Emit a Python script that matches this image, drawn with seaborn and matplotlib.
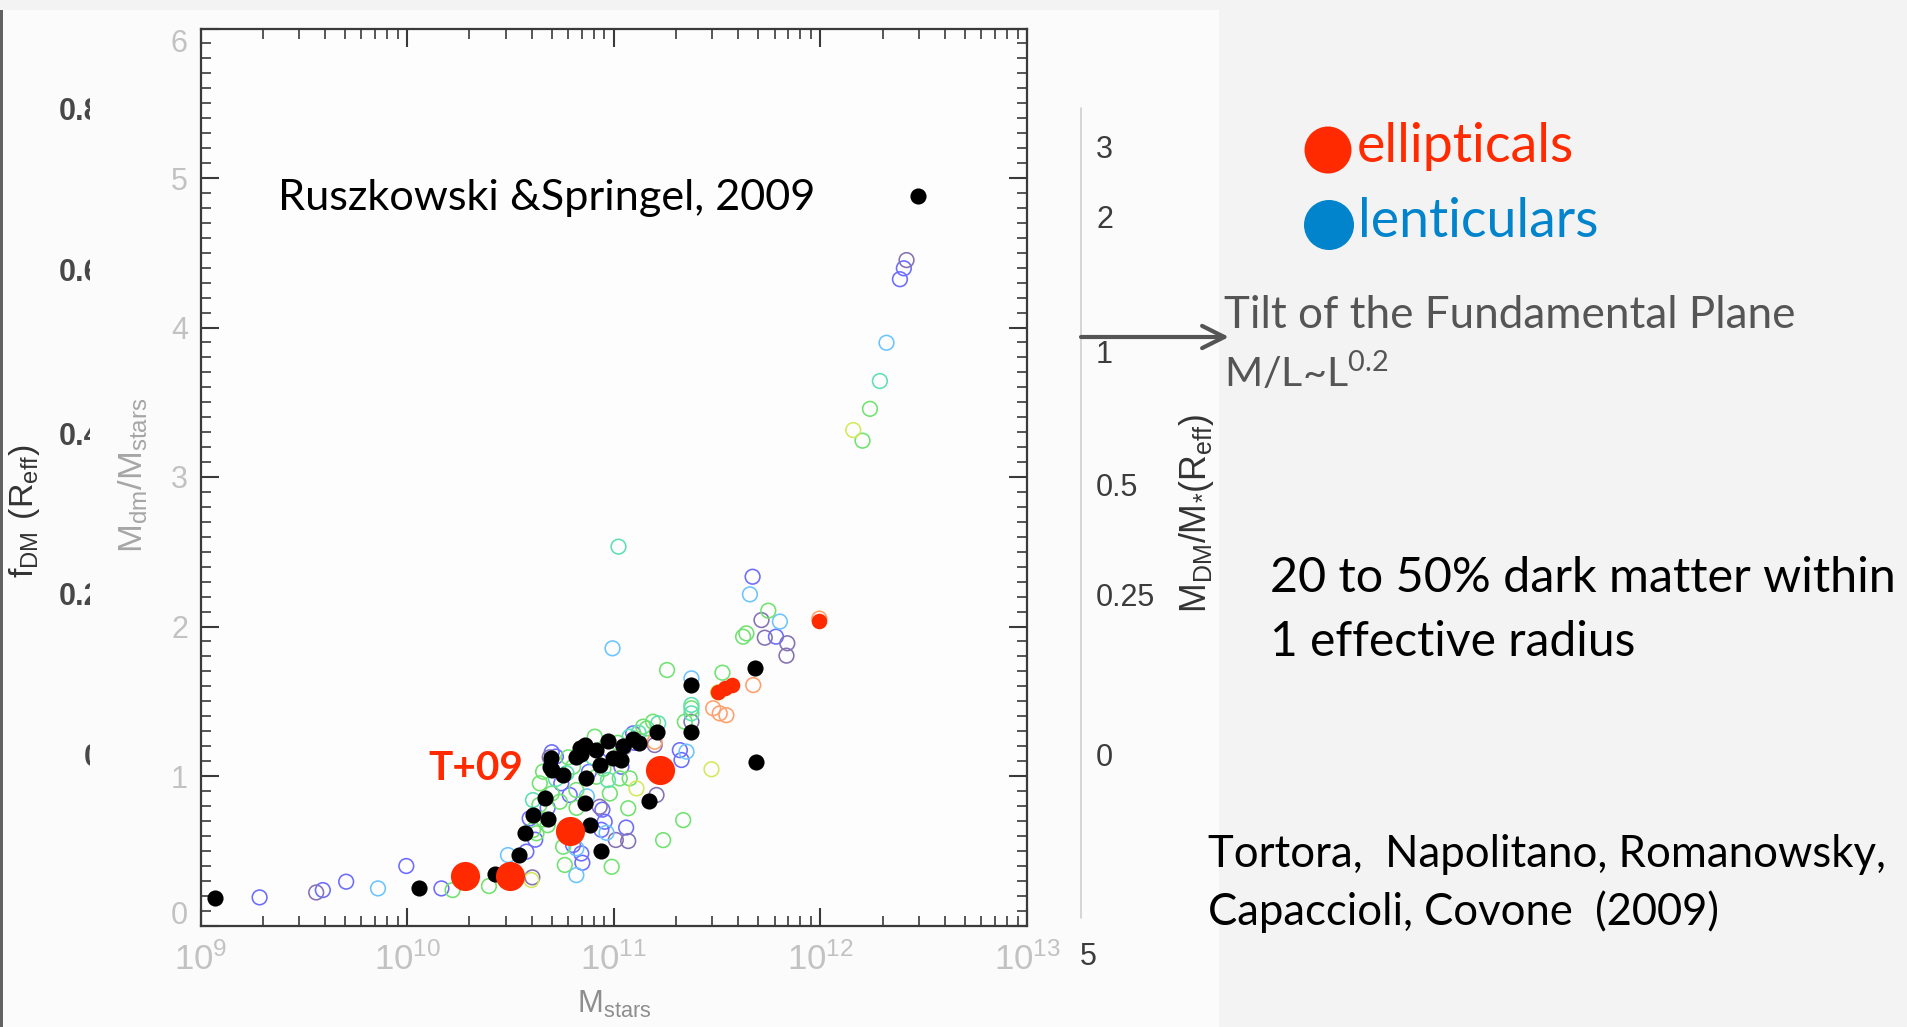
import numpy as np
import pandas as pd
import matplotlib
matplotlib.use("Agg")
import matplotlib.pyplot as plt
import seaborn as sns
from matplotlib.patches import Rectangle, Circle
from matplotlib.ticker import FixedLocator, MultipleLocator, LogLocator, NullFormatter
from matplotlib.transforms import ScaledTranslation

# ------------------------------------------------------------------ data
# hollow (coloured) simulated galaxies: log10 M_stars, M_dm/M_stars, colour group
open_logm = [9.286, 9.560, 9.592, 9.705, 9.859, 9.996, 10.166, 10.220, 10.396, 10.606,
             10.601, 10.488, 10.577, 10.626, 10.593, 10.609, 10.609, 10.642, 10.658, 10.690,
             10.700, 10.720, 10.739, 10.746, 10.755, 10.763, 10.771, 10.787, 10.803, 10.803,
             10.819, 10.819, 10.819, 10.843, 10.848, 10.908, 10.916, 10.932, 10.945, 10.940,
             10.965, 10.956, 10.972, 10.981, 10.990, 11.010, 11.029, 11.037, 11.060, 11.070,
             11.070, 11.077, 11.077, 11.094, 11.110, 11.142, 11.190, 11.215, 11.198, 11.198,
             11.207, 11.239, 11.258, 11.320, 11.328, 11.352, 11.336, 11.344, 11.376, 11.376,
             11.376, 11.376, 11.376, 11.473, 11.481, 11.513, 11.545, 11.526, 11.505, 11.675,
             11.626, 11.642, 11.672, 11.659, 11.748, 11.715, 11.804, 11.731, 11.785, 11.840,
             11.836, 11.995, 11.023, 10.994, 12.159, 12.204, 12.240, 12.288, 12.320, 12.385,
             12.404, 12.417,
             10.680, 10.700, 10.720, 10.660, 10.780, 10.850, 10.880, 10.900, 10.980, 11.020,
             11.050, 11.120, 11.160, 11.100, 10.950, 10.820, 10.870, 10.640, 10.620, 10.680]
open_ratio = [0.188, 0.221, 0.237, 0.293, 0.248, 0.398, 0.248, 0.237, 0.264, 0.322,
              0.304, 0.471, 0.494, 0.617, 0.716, 0.638, 0.839, 0.951, 1.029, 1.125,
              1.159, 1.130, 0.828, 0.951, 0.527, 0.405, 1.018, 0.873, 1.062, 0.538,
              0.906, 0.516, 0.337, 0.482, 0.420, 1.263, 0.995, 0.794, 0.775, 0.640,
              0.620, 0.694, 0.973, 0.883, 0.393, 0.572, 0.984, 1.062, 0.655, 0.565,
              0.784, 0.984, 1.263, 1.285, 0.917, 1.330, 1.363, 1.352, 1.229, 1.207,
              0.873, 0.571, 1.709, 1.173, 1.107, 1.163, 0.705, 1.363, 1.363, 1.419,
              1.453, 1.475, 1.653, 1.045, 1.453, 1.419, 1.407, 1.691, 1.560, 1.608,
              1.932, 1.954, 2.333, 2.215, 2.106, 2.043, 2.033, 1.925, 1.932, 1.888,
              1.805, 2.053, 2.534, 1.854, 3.314, 3.243, 3.456, 3.642, 3.898, 4.323,
              4.396, 4.451,
              0.787, 0.883, 0.980, 0.709, 1.125, 1.173, 1.028, 1.125, 1.173, 1.222,
              1.193, 1.289, 1.318, 1.222, 1.048, 0.787, 0.864, 0.806, 0.574, 0.671]
open_group = ["blue", "purple", "blue", "blue", "lightblue", "blue", "blue", "green", "green", "purple",
              "yellow", "lightblue", "blue", "green", "blue", "green", "aqua", "green", "green", "purple",
              "blue", "blue", "green", "blue", "green", "green", "aqua", "blue", "green", "blue",
              "green", "lightblue", "lightblue", "blue", "blue", "green", "green", "purple", "blue", "blue",
              "lightblue", "blue", "aqua", "green", "green", "purple", "green", "blue", "blue", "purple",
              "green", "green", "aqua", "blue", "yellow", "green", "green", "aqua", "orange", "purple",
              "purple", "green", "green", "blue", "blue", "lightblue", "green", "green", "purple", "aqua",
              "green", "aqua", "lightblue", "yellow", "orange", "orange", "orange", "green", "yellow", "orange",
              "green", "green", "blue", "lightblue", "green", "purple", "lightblue", "purple", "blue", "purple",
              "purple", "orange", "aqua", "lightblue", "yellow", "green", "green", "aqua", "lightblue", "blue",
              "blue", "purple",
              "blue", "green", "aqua", "green", "green", "purple", "blue", "aqua", "blue", "green",
              "purple", "aqua", "green", "blue", "green", "green", "lightblue", "green", "blue", "green"]

# black filled points
black_logm = [9.068, 10.057, 10.424, 10.542, 10.569, 10.607, 10.684, 10.666, 10.690, 10.698,
              10.700, 10.755, 10.819, 10.835, 10.843, 10.860, 10.868, 10.860, 10.884, 10.940,
              10.932, 10.916, 10.972, 10.995, 11.037, 11.045, 11.094, 11.122, 11.207, 11.171,
              11.376, 11.376, 11.686, 11.690, 12.472]
black_ratio = [0.182, 0.248, 0.344, 0.472, 0.622, 0.739, 0.713, 0.854, 1.062, 1.118,
               1.040, 1.006, 1.129, 1.185, 1.144, 1.207, 0.984, 0.820, 0.669, 0.497,
               1.074, 1.173, 1.231, 1.118, 1.107, 1.202, 1.246, 1.219, 1.296, 0.832,
               1.608, 1.296, 1.722, 1.091, 4.878]

# small red filled points
red_logm = [11.505, 11.537, 11.570, 11.993]
red_ratio = [1.564, 1.586, 1.608, 2.034]

# T+09 (big red points)
t09_logm = [10.278, 10.499, 10.786, 11.222]
t09_ratio = [0.330, 0.330, 0.633, 1.037]

x_tick_values = [1e9, 1e10, 1e11, 1e12, 1e13]
y_tick_values = [0, 1, 2, 3, 4, 5, 6]
right_tick_labels = ["3", "2", "1", "0.5", "0.25", "0"]
left_cut_labels = ["0.8", "0.6", "0.4", "0.2", "0"]

group_colors = {"blue": "#6c6cff", "purple": "#8572b2", "lightblue": "#6cc4ff",
                "green": "#70e270", "aqua": "#5ee0b2", "yellow": "#d6e85c",
                "orange": "#ffa06c"}

# ------------------------------------------------------------------ style
sns.set_style("white")
plt.rcParams["font.family"] = ["Liberation Sans", "DejaVu Sans"]
plt.rcParams["axes.unicode_minus"] = False

W, H = 1907, 1027
fig = plt.figure(figsize=(W / 100, H / 100), dpi=100)
R = fig.canvas.get_renderer()

# background axes (pixel coordinates)
bg = fig.add_axes([0, 0, 1, 1], zorder=0)
bg.set_xlim(0, W); bg.set_ylim(H, 0); bg.axis("off")
bg.add_patch(Rectangle((0, 0), W, H, color="#f3f3f3", lw=0))
bg.add_patch(Rectangle((0, 10), 1219, H - 10, color="#fbfbfb", lw=0))
bg.add_patch(Rectangle((0, 10), 2.5, H - 10, color="#626262", lw=0))

# main axes
ax_left, ax_right, ax_top, ax_bot = 200.5, 1027, 28.5, 925.5
ax = fig.add_axes([ax_left / W, 1 - ax_bot / H, (ax_right - ax_left) / W, (ax_bot - ax_top) / H],
                  zorder=1)
ax.set_facecolor("#fdfdfd")

df_open = pd.DataFrame({"mass": 10 ** np.array(open_logm), "ratio": open_ratio, "group": open_group})
for g, sub in df_open.groupby("group", sort=False):
    c = group_colors[g]
    sns.scatterplot(data=sub, x="mass", y="ratio", ax=ax, s=112, color=c,
                    facecolor="none", edgecolor=c, linewidth=1.15, zorder=2)

df_black = pd.DataFrame({"mass": 10 ** np.array(black_logm), "ratio": black_ratio})
sns.scatterplot(data=df_black, x="mass", y="ratio", ax=ax, s=135, color="black",
                linewidth=0, zorder=3)
df_red = pd.DataFrame({"mass": 10 ** np.array(red_logm), "ratio": red_ratio})
sns.scatterplot(data=df_red, x="mass", y="ratio", ax=ax, s=125, color="#ff2a00",
                linewidth=0, zorder=3)
df_t09 = pd.DataFrame({"mass": 10 ** np.array(t09_logm), "ratio": t09_ratio})
sns.scatterplot(data=df_t09, x="mass", y="ratio", ax=ax, s=440, color="#ff2a00",
                linewidth=0, zorder=4)

ax.set_xscale("log")
ax.set_xlim(1e9, 1e13)
ax.set_ylim(0, 6)
ax.xaxis.set_major_locator(FixedLocator(x_tick_values))
ax.xaxis.set_minor_locator(LogLocator(base=10, subs=np.arange(2, 10)))
ax.xaxis.set_minor_formatter(NullFormatter())
ax.yaxis.set_major_locator(FixedLocator(y_tick_values))
ax.yaxis.set_minor_locator(MultipleLocator(0.1))
ax.set_xlabel(""); ax.set_ylabel("")
for sp in ax.spines.values():
    sp.set_color("#3a3a3a"); sp.set_linewidth(1.6)
ax.tick_params(which="both", direction="in", bottom=True, left=True, top=True, right=True,
               color="#3a3a3a")
ax.tick_params(which="major", length=13, width=1.5)
ax.tick_params(which="minor", length=7.5, width=1.2)
ax.tick_params(axis="x", which="major", labelsize=25, labelcolor="#c2c2c2", pad=12)
ax.tick_params(axis="y", which="major", labelsize=22, labelcolor="#c2c2c2", pad=9)

# the end labels of the y axis sit slightly inside the frame in the original
yt = ax.yaxis.get_major_ticks()
yt[0].label1.set_transform(yt[0].label1.get_transform() + ScaledTranslation(0, 13 / 100, fig.dpi_scale_trans))
yt[-1].label1.set_transform(yt[-1].label1.get_transform() + ScaledTranslation(0, -11.5 / 100, fig.dpi_scale_trans))

# overlay axes for annotation (pixel coordinates)
ov = fig.add_axes([0, 0, 1, 1], zorder=3)
ov.set_xlim(0, W); ov.set_ylim(H, 0); ov.axis("off"); ov.patch.set_alpha(0)


def fit_text(axo, x, y, s, target, vertical=False, **kw):
    t = axo.text(x, y, s, fontsize=20, **kw)
    bb = t.get_window_extent(renderer=R)
    size = bb.height if vertical else bb.width
    t.set_fontsize(20 * target / size)
    return t


LATO = ["Lato", "DejaVu Sans"]
# axis titles
fit_text(ov, 614, 1013, r"$\mathregular{M_{stars}}$", 75, ha="center", va="baseline",
         color="#8e8e8e")
fit_text(ov, 133, 475, r"$\mathregular{M_{dm}/M_{stars}}$", 156, vertical=True, rotation=90,
         ha="center", va="center", color="#a6a6a6")
fit_text(ov, 24, 511, r"$\mathregular{f_{DM}\ (R_{eff})}$", 134, vertical=True, rotation=90,
         ha="center", va="center", color="#333333")
fit_text(ov, 1197, 513, r"$\mathregular{M_{DM}/M_{*}(R_{eff})}$", 200, vertical=True, rotation=90,
         ha="center", va="center", color="#333333")

# cut-off labels of a hidden axis on the far left
clipax = fig.add_axes([0, 0, 90 / W, 1], zorder=2)
clipax.set_xlim(0, 90); clipax.set_ylim(H, 0); clipax.axis("off"); clipax.patch.set_alpha(0)
for lab, yy in zip(left_cut_labels, [112, 273, 437, 597, 758]):
    clipax.text(101, yy, lab, fontsize=22, fontweight="bold", color="#484848",
                ha="right", va="center", clip_on=True)

# secondary (right) scale
ov.plot([1081, 1081], [108, 918], color="#cfcfcf", lw=1.2)
for lab, yy in zip(right_tick_labels, [150, 220, 355, 488, 598, 758]):
    ov.text(1096, yy, lab, fontsize=22, color="#3c3c3c", ha="left", va="center")
ov.text(1080, 957, "5", fontsize=22, color="#3c3c3c", ha="left", va="center")

# arrow
ov.annotate("", xy=(1229, 337), xytext=(1081, 337),
            arrowprops=dict(arrowstyle="->,head_length=0.8,head_width=0.4", color="#555555",
                            lw=3.0, shrinkA=0, shrinkB=0, mutation_scale=20))

# texts
fit_text(ov, 278, 210, "Ruszkowski &Springel, 2009", 539, family=LATO, color="black",
         ha="left", va="baseline")
fit_text(ov, 428, 780, "T+09", 95, family=LATO, fontweight="bold", color="#ff2a00",
         ha="left", va="baseline")

ov.add_patch(Circle((1328, 150), 23.5, color="#ff2a00", lw=0))
ov.add_patch(Circle((1329, 225), 25, color="#0284cc", lw=0))
fit_text(ov, 1357, 162, "ellipticals", 218, family=LATO, color="#ff2a00", ha="left", va="baseline")
fit_text(ov, 1358, 237, "lenticulars", 242, family=LATO, color="#0284cc", ha="left", va="baseline")

fit_text(ov, 1224, 328, "Tilt of the Fundamental Plane", 573, family=LATO, color="#555555",
         ha="left", va="baseline")
fit_text(ov, 1224, 387, r"M/L~L$^{\mathregular{0.2}}$", 165, family=LATO, color="#555555",
         ha="left", va="baseline")

fit_text(ov, 1270, 592, "20 to 50% dark matter within", 629, family=LATO, color="black",
         ha="left", va="baseline")
fit_text(ov, 1270, 656, "1 effective radius", 367, family=LATO, color="black",
         ha="left", va="baseline")

fit_text(ov, 1208, 867, "Tortora,  Napolitano, Romanowsky,", 677, family=LATO, color="black",
         ha="left", va="baseline")
fit_text(ov, 1208, 925, "Capaccioli, Covone  (2009)", 512, family=LATO, color="black",
         ha="left", va="baseline")

fig.savefig("out.png", dpi=100)
